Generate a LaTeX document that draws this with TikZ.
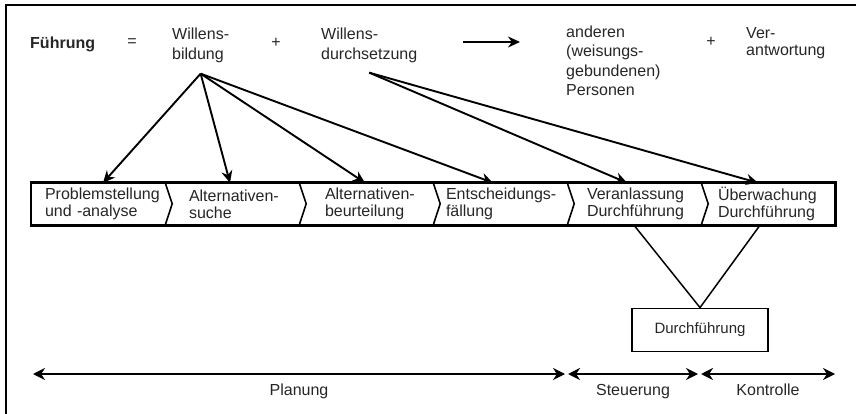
\documentclass[tikz,border=0pt]{standalone}
\usepackage{fontspec}
\setmainfont{Liberation Sans}
\usetikzlibrary{arrows.meta}

\begin{document}
\begin{tikzpicture}[
    x=1pt, y=-1pt,
    every node/.style={font=\fontsize{16}{17}\selectfont, inner sep=0pt, text=black!85},
    head/.style={anchor=west, align=left, font=\fontsize{16}{20}\selectfont},
    seg/.style={rectangle, minimum width=134pt, minimum height=42pt, inner ysep=0pt, align=left},
    resultbox/.style={rectangle, draw, line width=1.8pt, minimum width=136pt, minimum height=43pt, font=\fontsize{15}{17}\selectfont},
    arrow/.style={-{Stealth[length=12pt, width=11pt]}, line width=1.9pt},
    span/.style={{Stealth[length=12pt, width=12pt]}-{Stealth[length=12pt, width=12pt]}, line width=1.9pt},
    barline/.style={line width=2.6pt},
    divider/.style={line width=1.6pt},
    vline/.style={line width=1.5pt},
    phase/.style={below=9pt}
]
    \useasboundingbox (0,0) rectangle (856,414);

% -------------------------
% Frame
% -------------------------
    \draw[line width=2.2pt] (856,5) -- (6,5) -- (6,414); % top and left edge

% -------------------------
% Header row
% -------------------------
    \node[head, font=\bfseries\fontsize{16}{20}\selectfont] (fuehrung) at (30,44) {Führung};
    \node (eq) at (132,43) {=};
    \node[head] (bildung) at (172,45) {Willens-\\bildung};
    \node (plus1) at (276,43) {+};
    \node[head] (durch) at (321,45) {Willens-\\durchsetzung};
    \node[head, font=\fontsize{16}{19.5}\selectfont] (anderen) at (566,61) {anderen\\(weisungs-\\gebundenen)\\Personen};
    \node (plus2) at (711,42) {+};
    \node[head, font=\fontsize{16}{17}\selectfont] (verant) at (746,43) {Ver-\\antwortung};

    \coordinate (b_src) at ([yshift=-11pt]bildung.south);
    \coordinate (d_src) at ([yshift=-10pt]durch.south);

% -------------------------
% Process bar (chevrons)
% -------------------------
    \node[seg, inner xsep=14pt, text width=106pt] (c1) at (98,204) {\mbox{Problemstellung}\\und -analyse};
    \node[seg, inner xsep=24pt, text width=86pt] (c2) at (232,204) {\mbox{Alternativen-}\\suche};
    \node[seg, inner xsep=26pt, text width=82pt] (c3) at (366,204) {\mbox{Alternativen-}\\beurteilung};
    \node[seg, inner xsep=13pt, text width=108pt] (c4) at (500,204) {\mbox{Entscheidungs-}\\fällung};
    \node[seg, inner xsep=20pt, text width=94pt] (c5) at (634,204) {\mbox{Veranlassung}\\\mbox{Durchführung}};
    \node[seg, inner xsep=17pt, text width=100pt] (c6) at (768,204) {\mbox{Überwachung}\\\mbox{Durchführung}};

    \draw[barline] (c1.north west) rectangle (c6.south east);
    \foreach \a in {c1,c2,c3,c4,c5}
        \draw[divider] (\a.north east) -- ++(7,21) -- (\a.south east);

% -------------------------
% Durchfuehrung
% -------------------------
    \node[resultbox] (d1) at (700,330) {Durchführung};

% -------------------------
% Arrows & Routing
% -------------------------
    \draw[arrow, shorten <=46pt, shorten >=46pt] ([yshift=3pt]durch.east) -- ([yshift=3pt]durch.east -| anderen.west);

    % Willensbildung fans out to the planning steps
    \foreach \t/\s in {c1/5, c2/-2, c3/-1, c4/-7}
        \draw[arrow] (b_src) -- ([xshift=\s pt]\t.north);

    % Willensdurchsetzung
    \draw[arrow] (d_src) -- ([xshift=-7pt]c5.north);
    \draw[arrow] (d_src) -- ([xshift=-10pt]c6.north);

    % V down to Durchfuehrung
    \draw[vline] (c5.south) -- (d1.north);
    \draw[vline] ([xshift=-8pt]c6.south) -- (d1.north);

% -------------------------
% Phases
% -------------------------
    \coordinate (p0) at (33,374);
    \coordinate (p1) at (565,374);
    \coordinate (p2) at (568,374);
    \coordinate (p3) at (698,374);
    \coordinate (p4) at (701,374);
    \coordinate (p5) at (835,374);

    \draw[span] (p0) -- node[phase] (plan) {Planung} (p1);
    \draw[span] (p2) -- node[phase] (steu) {Steuerung} (p3);
    \draw[span] (p4) -- node[phase] (kontr) {Kontrolle} (p5);
\end{tikzpicture}
\end{document}
